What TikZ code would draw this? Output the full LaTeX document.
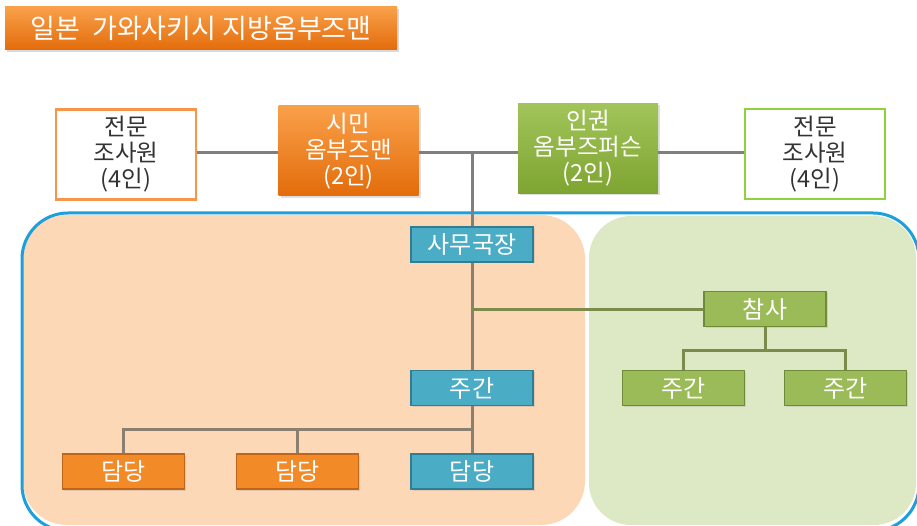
\documentclass[tikz,border=0pt]{standalone}
\usepackage{fontspec}
\newfontfamily\kr{Noto Sans CJK KR}
\usetikzlibrary{shadows}
\definecolor{orangeT}{HTML}{F9A04A}
\definecolor{orangeB}{HTML}{E36C0A}
\definecolor{greenT}{HTML}{A2C45A}
\definecolor{greenB}{HTML}{7EA431}
\definecolor{orangeline}{HTML}{F7964A}
\definecolor{greenline}{HTML}{8ED33C}
\definecolor{bluefill}{HTML}{4BACC6}
\definecolor{blueedge}{HTML}{2F7E94}
\definecolor{ofill}{HTML}{F38A28}
\definecolor{oedge}{HTML}{C0651A}
\definecolor{gfill}{HTML}{9BBB59}
\definecolor{gedge}{HTML}{6F8A3A}
\definecolor{peach}{HTML}{FCD8B6}
\definecolor{palegreen}{HTML}{DDE8C5}
\definecolor{frame}{HTML}{1C9FDB}
\definecolor{conn}{HTML}{7F7F7F}
\definecolor{connb}{HTML}{8A8072}
\definecolor{conng}{HTML}{7C8B4C}
\tikzset{
  bigbox/.style={minimum width=140pt, minimum height=90pt, align=center, inner sep=0pt,
    font=\kr\fontsize{23.5}{26}\selectfont},
  whitebox/.style={bigbox, fill=white, draw=#1, line width=2.5pt, text=black!80},
  shadebox/.style={bigbox, top color=#1T, bottom color=#1B, text=white,
    drop shadow={opacity=0.25, shadow xshift=2pt, shadow yshift=-2pt}},
  smallbox/.style={minimum width=122pt, minimum height=35pt, inner sep=0pt, text=white,
    fill=#1fill, draw=#1edge, line width=1.8pt, font=\kr\fontsize{24}{26}\selectfont,
    drop shadow={opacity=0.2, shadow xshift=1.5pt, shadow yshift=-1.5pt}},
  line/.style={draw=#1, line width=3pt},
}
\begin{document}
\begin{tikzpicture}[x=1pt,y=-1pt]
\useasboundingbox (0,0) rectangle (917,526);
\begin{scope}
\clip (0,0) rectangle (917,526);
% title
\node[minimum width=392pt, minimum height=43pt, inner sep=0pt,
  top color=orangeT, bottom color=orangeB, text=white,
  drop shadow={opacity=0.3, shadow xshift=2pt, shadow yshift=-2pt},
  font=\kr\fontsize{27}{30}\selectfont] (title) at (201,28.5) {일본\ \ 가와사키시 지방옴부즈맨};
% regions
\fill[peach, rounded corners=44pt] (23,215) rectangle (585,525);
\fill[palegreen, rounded corners=42pt] (589,216) rectangle (916,525);
\draw[frame, line width=3pt, rounded corners=46pt] (22,213) rectangle (919,531);
% top boxes
\node[whitebox=orangeline] (L1) at (126,154.5) {전문\\조사원\\(4인)};
\node[shadebox=orange] (C) at (348.5,151) {시민\\옴부즈맨\\(2인)};
\node[shadebox=green] (H) at (588,148.5) {인권\\옴부즈퍼슨\\(2인)};
\node[whitebox=greenline] (R1) at (815,154) {전문\\조사원\\(4인)};
\coordinate (J) at (472,153);
% small boxes
\node[smallbox=blue] (SA) at (472,244.5) {사무국장};
\node[smallbox=g] (CS) at (765,309) {참사};
\node[smallbox=blue] (JU) at (472,388) {주간};
\node[smallbox=g] (G1) at (683.5,388) {주간};
\node[smallbox=g] (G2) at (845.5,388) {주간};
\node[smallbox=o] (D1) at (123.5,471.5) {담당};
\node[smallbox=o] (D2) at (297.5,471.5) {담당};
\node[smallbox=blue] (D3) at (472,471.5) {담당};
\coordinate (J2) at (472,309);
\coordinate (K) at (765,350);
\coordinate (M) at (472,429);
% connectors
\draw[line=conn] (L1.east |- J) -- (C.west |- J);
\draw[line=conn] (C.east |- J) -- (H.west |- J);
\draw[line=conn] (H.east |- J) -- (R1.west |- J);
\draw[line=conn] (J) -- (SA.north);
\draw[line=connb] (SA.south) -- (JU.north);
\draw[line=conng] (J2) -- (CS.west);
\draw[line=conng] (CS.south) -- (K);
\draw[line=conng] (G1.north) |- (K) -| (G2.north);
\draw[line=connb] (JU.south) -- (D3.north);
\draw[line=connb] (D1.north) |- (M);
\draw[line=connb] (D2.north) -- (D2.north |- M);
\end{scope}
\end{tikzpicture}
\end{document}
